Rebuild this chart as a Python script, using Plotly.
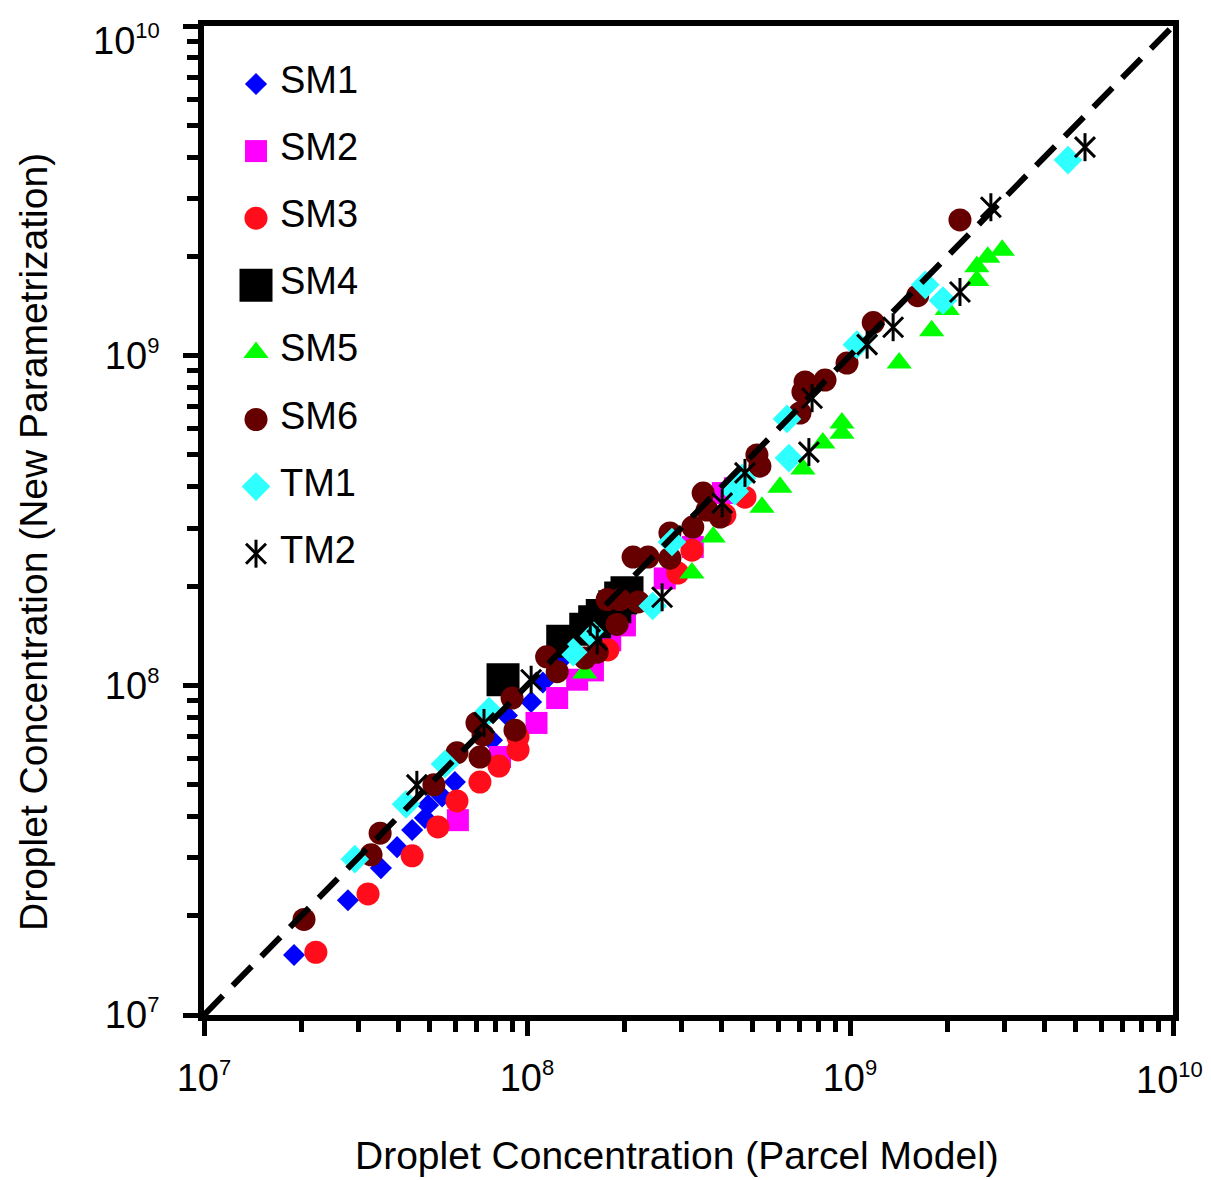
import plotly.graph_objects as go

# ---------------- data ----------------
sm1_x = [1.9e7, 2.79e7, 3.53e7, 3.96e7, 4.41e7, 4.83e7, 4.94e7, 5.46e7, 5.98e7, 7.79e7, 8.67e7, 1.03e8, 1.12e8, 1.26e8, 1.57e8]
sm1_y = [1.52e7, 2.23e7, 2.79e7, 3.23e7, 3.64e7, 3.96e7, 4.33e7, 4.6e7, 5.09e7, 6.82e7, 8.1e7, 8.9e7, 1.02e8, 1.18e8, 1.45e8]

sm2_x = [6.11e7, 8.25e7, 1.07e8, 1.24e8, 1.43e8, 1.6e8, 1.81e8, 2.01e8, 2.67e8, 3.26e8, 4.04e8, 4.4e8]
sm2_y = [3.9e7, 6.06e7, 7.69e7, 9.15e7, 1.04e8, 1.11e8, 1.37e8, 1.52e8, 2.11e8, 2.63e8, 3.83e8, 3.96e8]

sm3_x = [2.22e7, 3.22e7, 4.41e7, 5.3e7, 6.07e7, 7.15e7, 8.19e7, 9.38e7, 9.38e7, 1.78e8, 2.93e8, 3.24e8, 4.1e8, 4.73e8]
sm3_y = [1.55e7, 2.33e7, 3.04e7, 3.72e7, 4.46e7, 5.09e7, 5.69e7, 6.37e7, 6.97e7, 1.28e8, 2.19e8, 2.57e8, 3.29e8, 3.72e8]

sm4_x = [8.43e7, 1.29e8, 1.52e8, 1.62e8, 1.71e8, 1.87e8, 1.95e8, 2.04e8]
sm4_y = [1.04e8, 1.36e8, 1.48e8, 1.56e8, 1.63e8, 1.73e8, 1.84e8, 1.91e8]

sm5_x = [1.51e8, 3.24e8, 3.77e8, 5.34e8, 6.07e8, 7.15e8, 8.24e8, 9.44e8, 9.44e8, 1.42e9, 1.79e9, 2.0e9, 2.47e9, 2.47e9, 2.67e9, 2.96e9]
sm5_y = [1.09e8, 2.19e8, 2.82e8, 3.47e8, 3.99e8, 4.53e8, 5.43e8, 5.82e8, 6.25e8, 9.5e8, 1.19e9, 1.38e9, 1.69e9, 1.86e9, 1.99e9, 2.09e9]

sm6_x = [2.04e7, 3.29e7, 3.51e7, 5.15e7, 6.07e7, 7.15e7, 7.0e7, 7.31e7, 9.18e7, 8.99e7, 1.15e8, 1.24e8, 1.51e8, 1.65e8,
         1.9e8, 1.94e8, 1.77e8, 2.21e8, 2.13e8, 2.37e8, 2.77e8, 2.77e8, 3.26e8, 3.51e8, 3.61e8, 3.96e8, 5.15e8, 5.26e8,
         7.0e8, 7.15e8, 7.26e8, 8.37e8, 9.79e8, 1.18e9, 1.62e9, 2.19e9]
sm6_y = [1.95e7, 3.06e7, 3.56e7, 4.99e7, 6.24e7, 6.06e7, 7.69e7, 7.07e7, 7.31e7, 9.15e7, 1.22e8, 1.1e8, 1.21e8, 1.26e8,
         1.53e8, 1.82e8, 1.82e8, 1.79e8, 2.45e8, 2.45e8, 2.43e8, 2.9e8, 3.02e8, 3.83e8, 3.4e8, 3.24e8, 5.0e8, 4.62e8,
         6.7e8, 7.76e8, 8.32e8, 8.43e8, 9.5e8, 1.26e9, 1.52e9, 2.58e9]

tm1_x = [2.93e7, 4.22e7, 5.57e7, 7.63e7, 1.39e8, 1.57e8, 2.45e8, 2.81e8, 4.4e8, 4.63e8, 6.38e8, 6.47e8, 1.05e9, 1.71e9, 1.94e9, 4.73e9]
tm1_y = [2.97e7, 4.36e7, 5.77e7, 8.36e7, 1.26e8, 1.45e8, 1.74e8, 2.72e8, 3.88e8, 4.25e8, 6.43e8, 4.89e8, 1.08e9, 1.64e9, 1.47e9, 3.92e9]

tm2_x = [4.56e7, 7.36e7, 1.03e8, 1.57e8, 1.65e8, 2.62e8, 4.02e8, 4.73e8, 7.46e8, 7.63e8, 1.13e9, 1.36e9, 2.19e9, 2.73e9, 5.34e9]
tm2_y = [4.99e7, 7.69e7, 1.04e8, 1.56e8, 1.37e8, 1.85e8, 3.57e8, 4.41e8, 5.1e8, 7.43e8, 1.08e9, 1.22e9, 1.56e9, 2.82e9, 4.29e9]

one_to_one = [1e7, 1e10]

major_ticks = [1e7, 1e8, 1e9, 1e10]
major_base = ["10", "10", "10", "10"]
major_exp = ["7", "8", "9", "10"]
minor_ticks = [m * d for d in [1e7, 1e8, 1e9] for m in range(2, 10)]

series_names = ["SM1", "SM2", "SM3", "SM4", "SM5", "SM6", "TM1", "TM2"]

# ---------------- styles ----------------
FONT = "Liberation Sans, Arial, Helvetica, sans-serif"
SUP_PX = 22


def power_label(base, exp):
    return f"{base}<sup><span style='font-size:{SUP_PX}px'>{exp}</span></sup>"


major_text = [power_label(b, e) for b, e in zip(major_base, major_exp)]

styles = {
    "SM1": dict(symbol="diamond", color="#0000FF", size=17),
    "SM2": dict(symbol="square", color="#FF00FF", size=22),
    "SM3": dict(symbol="circle", color="#FF0D1A", size=23),
    "SM4": dict(symbol="square", color="#000000", size=33),
    "SM5": dict(symbol="triangle-up", color="#00FF00", size=22),
    "SM6": dict(symbol="circle", color="#660000", size=23),
    "TM1": dict(symbol="diamond", color="#2EFFFF", size=22),
}
data = {
    "SM1": (sm1_x, sm1_y), "SM2": (sm2_x, sm2_y), "SM3": (sm3_x, sm3_y),
    "SM4": (sm4_x, sm4_y), "SM5": (sm5_x, sm5_y), "SM6": (sm6_x, sm6_y),
    "TM1": (tm1_x, tm1_y), "TM2": (tm2_x, tm2_y),
}

fig = go.Figure()

for name in series_names:
    xs, ys = data[name]
    if name == "TM2":
        for sym in ["line-ns-open", "x-thin-open"]:
            fig.add_trace(go.Scatter(x=xs, y=ys, mode="markers", name=name, showlegend=False,
                                     marker=dict(symbol=sym, size=20, color="black",
                                                 line=dict(color="black", width=3))))
    else:
        st = styles[name]
        fig.add_trace(go.Scatter(x=xs, y=ys, mode="markers", name=name, showlegend=False,
                                 marker=dict(symbol=st["symbol"], size=st["size"], color=st["color"],
                                             line=dict(width=0))))

# 1:1 dashed line
fig.add_trace(go.Scatter(x=one_to_one, y=one_to_one, mode="lines", showlegend=False,
                         line=dict(color="black", width=6, dash="27px,14px")))

# ---------------- layout geometry (page has an 8px body margin) ----------------
OFF = 8
W, H = 1211 - OFF, 1180 - OFF
PLOT_L, PLOT_R, PLOT_T, PLOT_B = 204 - OFF, 1173 - OFF, 26 - OFF, 1015 - OFF
pw, ph = PLOT_R - PLOT_L, PLOT_B - PLOT_T

# ---------------- manual legend (overlay axes in 0..1 plot units) ----------------
leg_marker_px = 256 - OFF
leg_text_px = 278 - OFF
leg_row0, leg_step = 80 - OFF, 67.1
annotations = []
for i, name in enumerate(series_names):
    row_py = leg_row0 + leg_step * i
    mx = (leg_marker_px - PLOT_L) / pw
    my = (PLOT_B - (row_py + 4)) / ph
    if name == "TM2":
        for sym in ["line-ns-open", "x-thin-open"]:
            fig.add_trace(go.Scatter(x=[mx], y=[my], xaxis="x2", yaxis="y2", mode="markers", showlegend=False,
                                     marker=dict(symbol=sym, size=20, color="black",
                                                 line=dict(color="black", width=3))))
    else:
        st = styles[name]
        fig.add_trace(go.Scatter(x=[mx], y=[my], xaxis="x2", yaxis="y2", mode="markers", showlegend=False,
                                 marker=dict(symbol=st["symbol"], size=st["size"], color=st["color"],
                                             line=dict(width=0))))
    annotations.append(dict(text=name, xref="paper", yref="paper",
                            x=(leg_text_px - PLOT_L) / pw, y=(PLOT_B - row_py) / ph,
                            xanchor="left", yanchor="middle", showarrow=False,
                            font=dict(family=FONT, size=38, color="black")))

# axis titles
annotations.append(dict(text="Droplet Concentration (Parcel Model)", xref="paper", yref="paper",
                        x=(677 - OFF - PLOT_L) / pw, y=(PLOT_B - (1155 - OFF)) / ph,
                        xanchor="center", yanchor="middle",
                        showarrow=False, font=dict(family=FONT, size=39, color="black")))
annotations.append(dict(text="Droplet Concentration (New Parametrization)", xref="paper", yref="paper",
                        x=(33 - OFF - PLOT_L) / pw, y=(PLOT_B - (542 - OFF)) / ph,
                        xanchor="center", yanchor="middle",
                        textangle=-90, showarrow=False, font=dict(family=FONT, size=39, color="black")))

# the 10^10 tick labels sit at the page edges; they are nudged inside, as in the reference
y_ticktext = major_text[:-1] + [""]
x_ticktext = major_text[:-1] + [""]
annotations.append(dict(text=major_text[-1], xref="paper", yref="paper",
                        x=(162 - OFF - PLOT_L) / pw, y=(PLOT_B - (40 - OFF)) / ph,
                        xanchor="right", yanchor="middle", showarrow=False,
                        font=dict(family=FONT, size=38, color="black")))
annotations.append(dict(text=major_text[-1], xref="paper", yref="paper",
                        x=(1205 - OFF - PLOT_L) / pw, y=(PLOT_B - (1079 - OFF)) / ph,
                        xanchor="right", yanchor="middle", showarrow=False,
                        font=dict(family=FONT, size=38, color="black")))

axis_common = dict(
    type="log", range=[7, 10], showgrid=False, zeroline=False, automargin=False,
    showline=True, linecolor="black", linewidth=6, mirror=True,
    ticks="outside", ticklen=15, tickwidth=5, tickcolor="black",
    tickmode="array", tickvals=major_ticks,
    tickfont=dict(family=FONT, size=38, color="black"),
    ticklabeloverflow="allow",
    minor=dict(ticks="outside", ticklen=11, tickwidth=5, tickcolor="black",
               tickmode="array", tickvals=minor_ticks, showgrid=False),
)

fig.update_layout(
    width=W, height=H,
    margin=dict(l=PLOT_L, r=W - PLOT_R, t=PLOT_T, b=H - PLOT_B, autoexpand=False),
    paper_bgcolor="white", plot_bgcolor="white",
    xaxis=dict(**axis_common, ticktext=x_ticktext, ticklabelstandoff=9),
    yaxis=dict(**axis_common, ticktext=y_ticktext, ticklabelstandoff=16),
    xaxis2=dict(overlaying="x", range=[0, 1], visible=False, fixedrange=True, automargin=False),
    yaxis2=dict(overlaying="y", range=[0, 1], visible=False, fixedrange=True, automargin=False),
    annotations=annotations,
    showlegend=False,
)

fig.write_html("out.html")
